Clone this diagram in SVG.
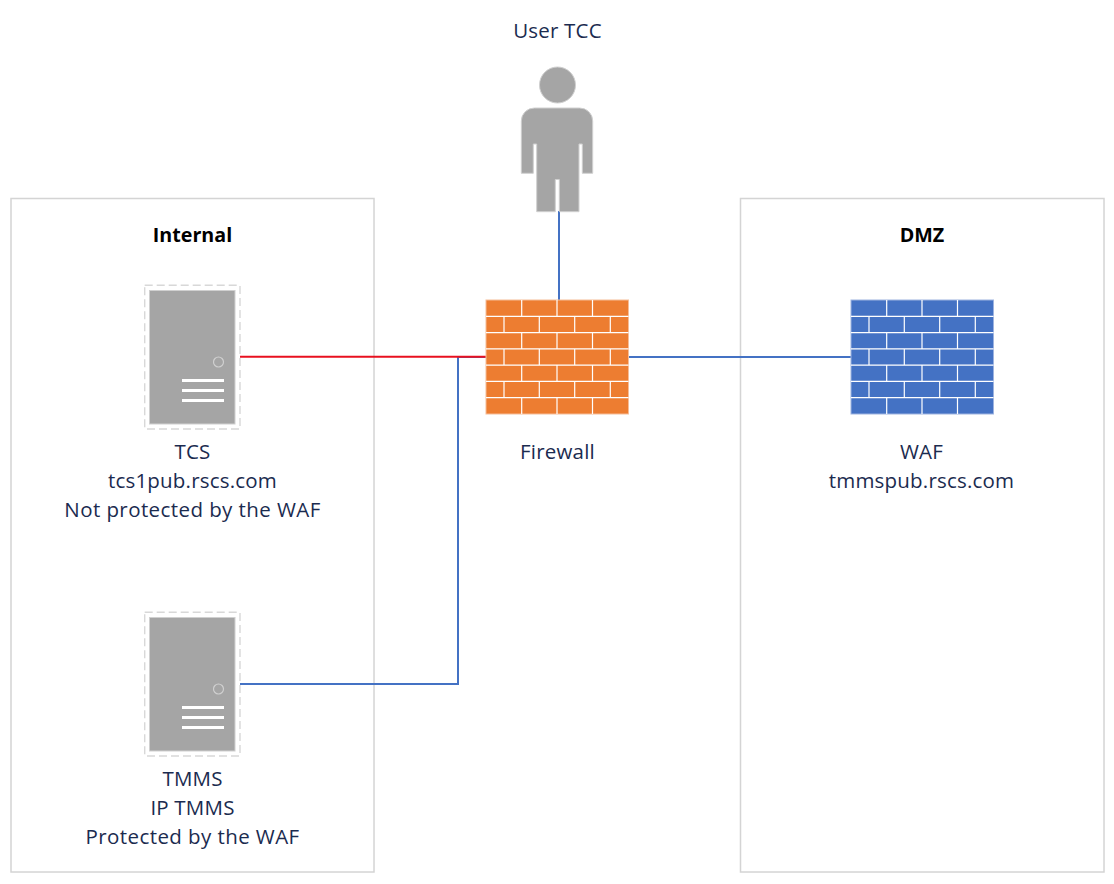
<svg xmlns="http://www.w3.org/2000/svg" xmlns:xlink="http://www.w3.org/1999/xlink" width="1114" height="884" viewBox="0 0 1114 884">
<style>
text{font-family:"Open Sans","Noto Sans","Liberation Sans",sans-serif;font-size:20.5px;letter-spacing:.2px;fill:#1b2b4f;text-anchor:middle}
.b{font-weight:700;fill:#000;font-size:19.7px;letter-spacing:0}
.w{letter-spacing:.42px}
.zone{fill:#fff;stroke:#d4d4d4;stroke-width:1.5}
.g{fill:#a5a5a5;stroke:#d0d0d0;stroke-width:1}
.line{fill:none;stroke-width:2}
.brick{stroke:#fff;stroke-width:1.2;fill:none}
</style>
<defs>
<g id="bricks">
<path class="brick" d="M0 16.3H142.5M0 32.6H142.5M0 48.9H142.5M0 65.1H142.5M0 81.4H142.5M0 97.7H142.5"/>
<path class="brick" d="M35.7 0V16.3M71 0V16.3M106.5 0V16.3M35.7 32.6V48.9M71 32.6V48.9M106.5 32.6V48.9M35.7 65.1V81.4M71 65.1V81.4M106.5 65.1V81.4M35.7 97.7V114M71 97.7V114M106.5 97.7V114"/>
<path class="brick" d="M18 16.3V32.6M53.3 16.3V32.6M88.7 16.3V32.6M124.3 16.3V32.6M18 48.9V65.1M53.3 48.9V65.1M88.7 48.9V65.1M124.3 48.9V65.1M18 81.4V97.7M53.3 81.4V97.7M88.7 81.4V97.7M124.3 81.4V97.7"/>
</g>
<g id="server">
<rect x="144.7" y="285.3" width="95.3" height="143.7" fill="#fff" stroke="#d8d8d8" stroke-width="1.4" stroke-dasharray="8 4"/>
<rect class="g" x="149.5" y="290.5" width="85.5" height="133.5"/>
<circle cx="218.5" cy="362" r="5" fill="none" stroke="#d0d0d0" stroke-width="1.2"/>
<path d="M182 380.5H224M182 390.5H224M182 400.5H224" stroke="#fff" stroke-width="3" fill="none"/>
</g>
</defs>
<g id="zone-internal"><rect class="zone" x="11" y="198.5" width="363" height="673.5"/><text class="b" x="192.5" y="241.5">Internal</text></g>
<g id="zone-dmz"><rect class="zone" x="740.5" y="198.5" width="363.5" height="673.5"/><text class="b" x="922" y="241.5">DMZ</text></g>
<g id="connectors">
<path class="line" stroke="#4472c4" d="M559 211V300"/>
<path class="line" stroke="#4472c4" d="M240 684H458V357H486"/>
<path class="line" stroke="#4472c4" d="M628 357H851"/>
<path class="line" stroke="#e8101f" d="M240 356.7H486"/>
</g>
<g id="user">
<text x="557.5" y="37.5">User TCC</text>
<circle class="g" cx="557.5" cy="85" r="18"/>
<path class="g" d="M534.5 108H579.5A13 13 0 0 1 592.7 121V173.3H582.3V144H579V211.7H559.3V179.5H555.3V211.7H536.7V144H533.3V173.3H521.3V121A13 13 0 0 1 534.5 108Z"/>
</g>
<g id="tcs">
<use xlink:href="#server" href="#server"/>
<text x="192.5" y="458.5">TCS</text>
<text x="192.5" y="487.5">tcs1pub.rscs.com</text>
<text class="w" x="192.5" y="516.5">Not protected by the WAF</text>
</g>
<g id="tmms">
<use xlink:href="#server" href="#server" y="327"/>
<text x="192.5" y="785.5">TMMS</text>
<text x="192.5" y="814.5">IP TMMS</text>
<text class="w" x="192.5" y="843.5">Protected by the WAF</text>
</g>
<g id="firewall">
<rect x="486" y="300" width="142.5" height="114" fill="#ed7d31" stroke="#f6bd98" stroke-width="1"/>
<use xlink:href="#bricks" href="#bricks" x="486" y="300"/>
<text x="557.5" y="458.5">Firewall</text>
</g>
<g id="waf">
<rect x="851" y="300" width="142.5" height="114" fill="#4472c4" stroke="#9db3e0" stroke-width="1"/>
<use xlink:href="#bricks" href="#bricks" x="851" y="300"/>
<text x="921.5" y="458.5">WAF</text>
<text x="921.5" y="487.5">tmmspub.rscs.com</text>
</g>
</svg>
